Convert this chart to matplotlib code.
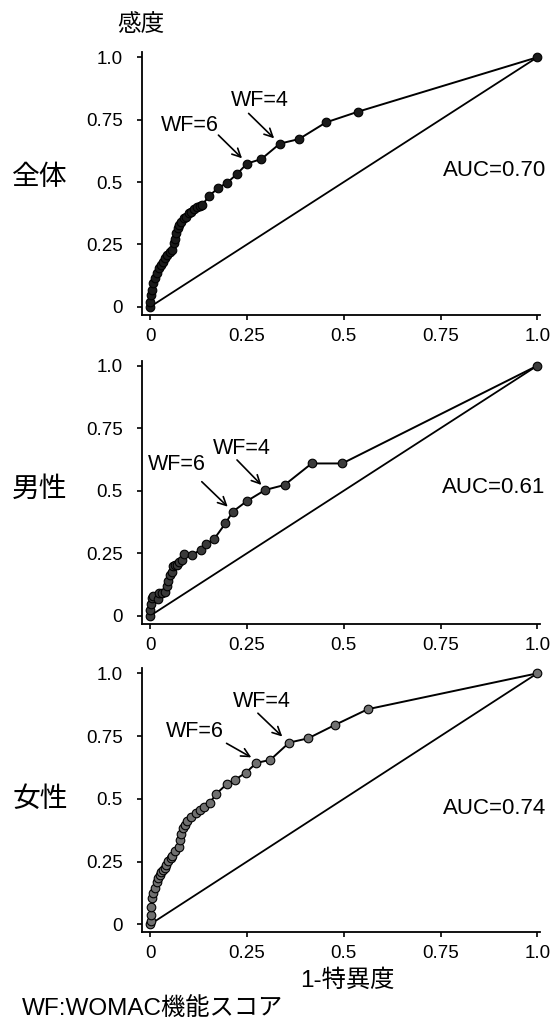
import matplotlib
matplotlib.use('Agg')
import matplotlib.pyplot as plt

plt.rcParams['font.family'] = ['Liberation Sans', 'Noto Sans CJK JP', 'DejaVu Sans']

# ROC curve data (1-specificity, sensitivity)
all_fpr = [0, 0, 0.002, 0.004, 0.008, 0.013, 0.018, 0.022, 0.028, 0.033, 0.038, 0.043, 0.050,
           0.056, 0.060, 0.064, 0.067, 0.071, 0.075, 0.080, 0.086, 0.092, 0.099, 0.106, 0.112,
           0.120, 0.128, 0.134, 0.152, 0.176, 0.197, 0.224, 0.250, 0.287, 0.335, 0.384, 0.454,
           0.537, 1.0]
all_tpr = [0, 0.02, 0.045, 0.068, 0.095, 0.115, 0.135, 0.155, 0.168, 0.181, 0.195, 0.208, 0.221,
           0.228, 0.255, 0.27, 0.295, 0.314, 0.328, 0.341, 0.355, 0.361, 0.375, 0.381, 0.391,
           0.401, 0.405, 0.408, 0.444, 0.477, 0.495, 0.532, 0.574, 0.592, 0.654, 0.672, 0.739,
           0.782, 1.0]

male_fpr = [0, 0, 0.001, 0.004, 0.008, 0.019, 0.022, 0.030, 0.037, 0.042, 0.046, 0.052, 0.056,
            0.059, 0.063, 0.069, 0.075, 0.082, 0.087, 0.107, 0.130, 0.145, 0.165, 0.194, 0.213,
            0.250, 0.297, 0.347, 0.417, 0.496, 1.0]
male_tpr = [0, 0.023, 0.045, 0.069, 0.08, 0.065, 0.089, 0.09, 0.096, 0.12, 0.139, 0.163, 0.175,
            0.197, 0.201, 0.201, 0.216, 0.224, 0.247, 0.243, 0.263, 0.287, 0.307, 0.369, 0.416,
            0.459, 0.503, 0.523, 0.609, 0.609, 1.0]

female_fpr = [0, 0.001, 0.003, 0.003, 0.005, 0.008, 0.011, 0.016, 0.020, 0.024, 0.028, 0.033,
              0.037, 0.041, 0.047, 0.054, 0.057, 0.065, 0.074, 0.077, 0.080, 0.084, 0.089, 0.095,
              0.106, 0.119, 0.128, 0.140, 0.153, 0.170, 0.197, 0.218, 0.247, 0.274, 0.310, 0.359,
              0.408, 0.478, 0.562, 1.0]
female_tpr = [0, 0.015, 0.037, 0.07, 0.104, 0.125, 0.143, 0.17, 0.185, 0.196, 0.207, 0.218,
              0.226, 0.236, 0.252, 0.263, 0.272, 0.29, 0.309, 0.335, 0.359, 0.382, 0.396, 0.41,
              0.429, 0.442, 0.456, 0.468, 0.482, 0.519, 0.558, 0.575, 0.604, 0.643, 0.655, 0.724,
              0.741, 0.795, 0.857, 1.0]

group_labels = ['全体', '男性', '女性']
auc_labels = ['AUC=0.70', 'AUC=0.61', 'AUC=0.74']
x_ticks = [0, 0.25, 0.5, 0.75, 1.0]
x_ticklabels = ['0', '0.25', '0.5', '0.75', '1.0']
y_ticks = [0, 0.25, 0.5, 0.75, 1.0]
y_ticklabels = ['0', '0.25', '0.5', '0.75', '1.0']

# WF cut-off annotations: (text x, text y, arrow tail x, tail y, head x, head y)
wf6_ann = [(0.101, 0.728, 0.176, 0.688, 0.237, 0.595),
           (0.069, 0.605, 0.133, 0.536, 0.200, 0.436),
           (0.116, 0.768, 0.197, 0.721, 0.261, 0.665)]
wf4_ann = [(0.284, 0.825, 0.254, 0.775, 0.320, 0.675),
           (0.236, 0.669, 0.224, 0.623, 0.287, 0.523),
           (0.287, 0.887, 0.278, 0.841, 0.341, 0.748)]
auc_y = [0.548, 0.513, 0.463]

W, H = 552, 1021
fig = plt.figure(figsize=(W / 100, H / 100), dpi=100)

# panel pixel boxes (left, top, right, bottom)
boxes = [(142.3, 52.3, 540.4, 314.7),
         (142.3, 360.7, 540.4, 623.7),
         (142.3, 668.3, 540.4, 932.3)]
label_y = [178, 490, 800]
marker_faces = ['#1a1a1a', '#3a3a3a', '#707070']
curves = [(all_fpr, all_tpr), (male_fpr, male_tpr), (female_fpr, female_tpr)]
arrow_props = dict(arrowstyle='->', color='black', lw=1.2, mutation_scale=15,
                   shrinkA=0, shrinkB=0)

for i, (l, t, r, b) in enumerate(boxes):
    ax = fig.add_axes([l / W, 1 - b / H, (r - l) / W, (b - t) / H])
    fpr, tpr = curves[i]
    ax.plot([0, 1], [0, 1], color='black', lw=1.3, zorder=2)
    ax.plot(fpr, tpr, color='black', lw=1.4, marker='o', ms=6.2,
            mfc=marker_faces[i], mec='black', mew=0.8, zorder=3, clip_on=False)
    ax.set_xlim(-0.0207, 1.008)
    ax.set_ylim(-0.032, 1.02)
    ax.spines['top'].set_visible(False)
    ax.spines['right'].set_visible(False)
    ax.spines['left'].set_linewidth(1.3)
    ax.spines['bottom'].set_linewidth(1.3)
    ax.set_xticks(x_ticks)
    ax.set_xticklabels(x_ticklabels)
    ax.set_yticks(y_ticks)
    ax.set_yticklabels(y_ticklabels)
    ax.tick_params(axis='both', direction='out', length=3.5, width=1.2, labelsize=13.5)
    ax.tick_params(axis='y', pad=10.5)
    ax.tick_params(axis='x', pad=6)

    tx, ty, ax0, ay0, hx, hy = wf6_ann[i]
    ax.text(tx, ty, 'WF=6', fontsize=15.5, ha='center', va='center')
    ax.annotate('', xy=(hx, hy), xytext=(ax0, ay0), arrowprops=arrow_props)
    tx, ty, ax0, ay0, hx, hy = wf4_ann[i]
    ax.text(tx, ty, 'WF=4', fontsize=15.5, ha='center', va='center')
    ax.annotate('', xy=(hx, hy), xytext=(ax0, ay0), arrowprops=arrow_props)

    ax.text(1.022, auc_y[i], auc_labels[i], fontsize=16, ha='right', va='center',
            clip_on=False)

    fig.text(40 / W, 1 - label_y[i] / H, group_labels[i], fontsize=20,
             ha='center', va='center')

fig.text(141 / W, 1 - 25 / H, '感度', fontsize=17, ha='center', va='center')
fig.text(347 / W, 1 - 987 / H, '1-特異度', fontsize=17.5, ha='center', va='baseline')
fig.text(22 / W, 1 - 1015 / H, 'WF:WOMAC機能スコア', fontsize=17.5, ha='left', va='baseline')

fig.savefig('out.png', dpi=100)
